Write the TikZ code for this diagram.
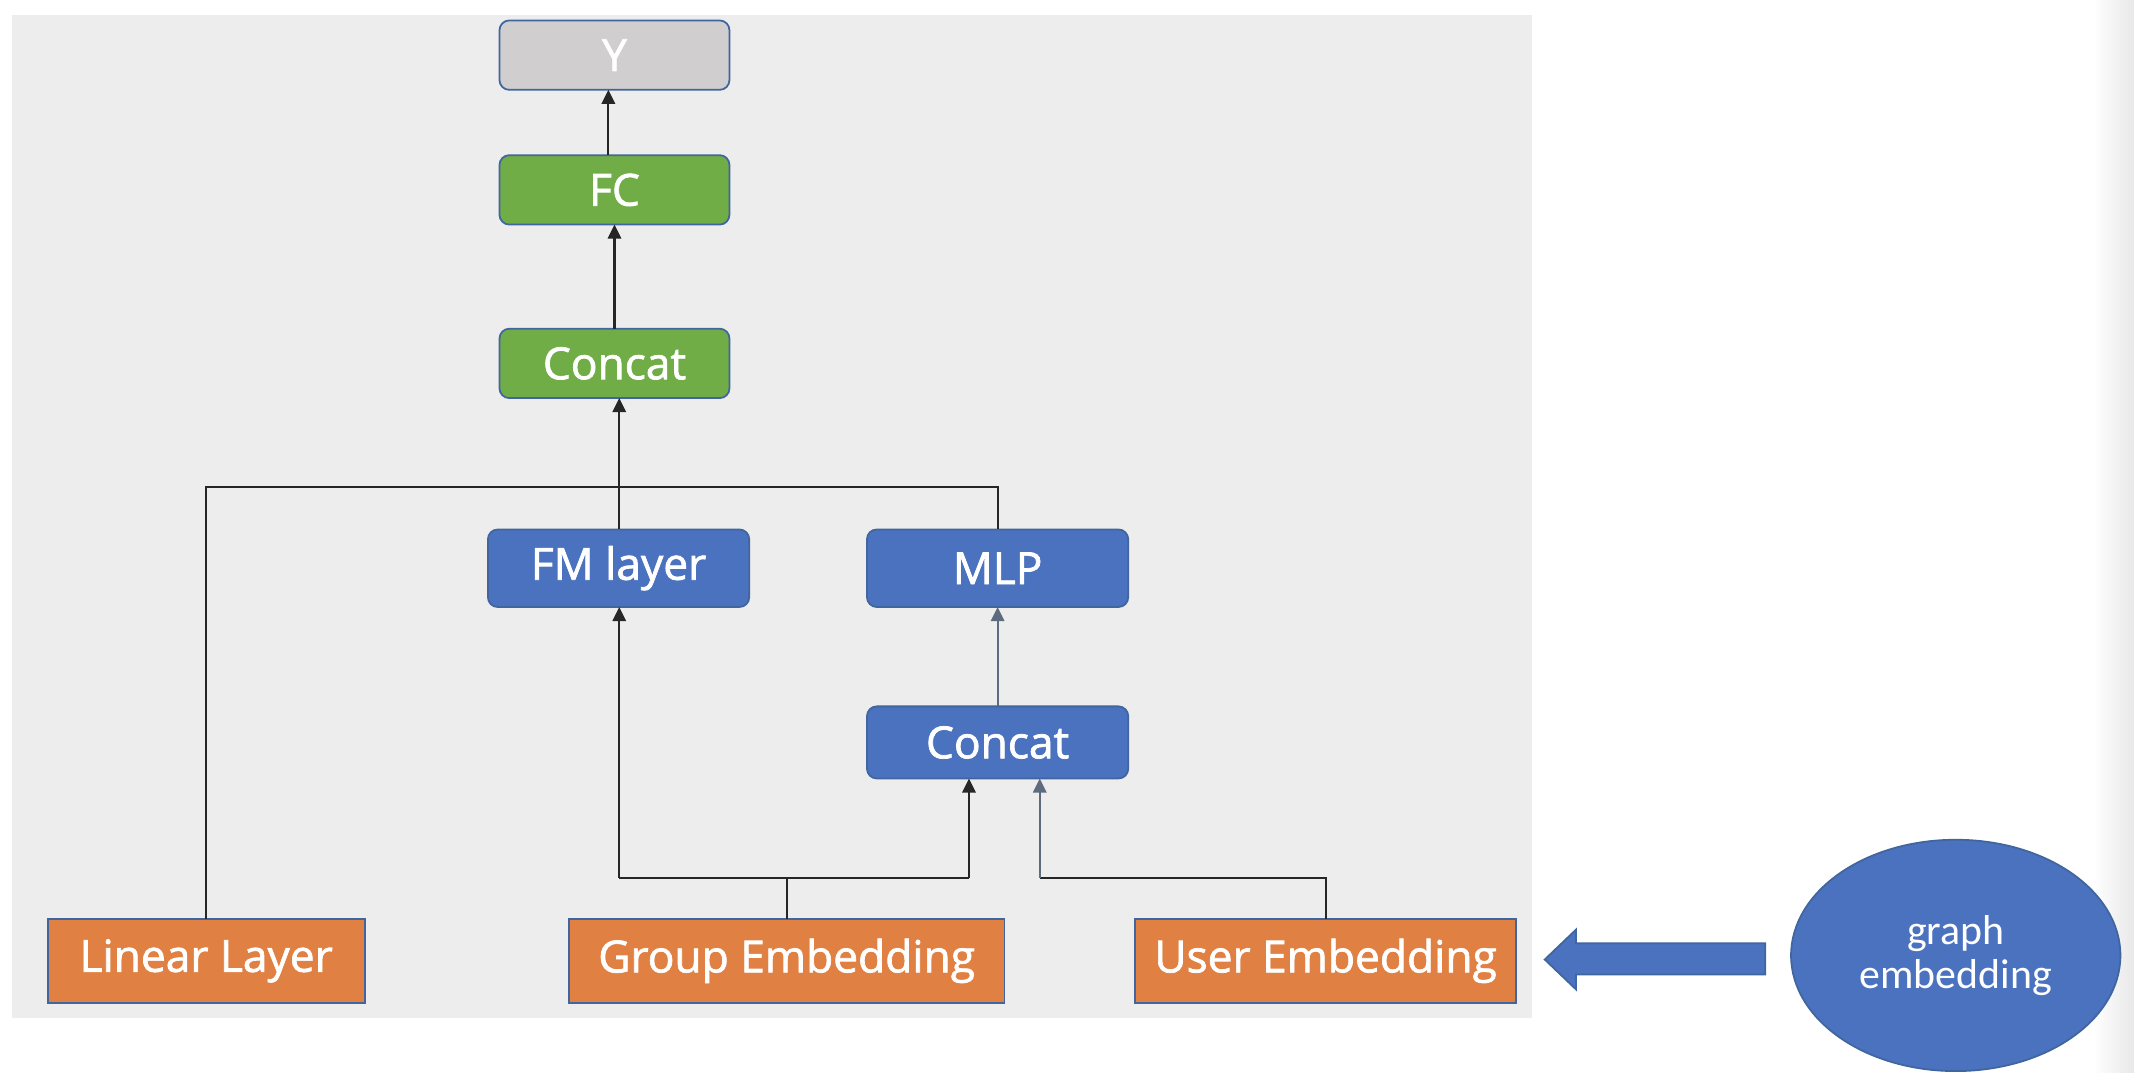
\documentclass[tikz,border=0pt]{standalone}
\usepackage{fontspec}
\setmainfont{Open Sans}
\newfontfamily\boxfont{Open Sans}[FakeBold=1.6]
\newfontfamily\carl{Carlito}
\usetikzlibrary{shapes.geometric,arrows.meta}
\newcommand{\uu}{0.01361cm}
\definecolor{panel}{HTML}{EDEDED}
\definecolor{bord}{HTML}{41659E}
\definecolor{ygray}{HTML}{D0CECE}
\definecolor{grn}{HTML}{70AD47}
\definecolor{blu}{HTML}{4A72BE}
\definecolor{org}{HTML}{E08042}
\definecolor{slate}{HTML}{5C6B7E}
\tikzset{
  box/.style={draw=bord, line width=0.5pt, rounded corners=2.8pt, text=white, outer sep=0pt, inner sep=0pt,
    font=\boxfont\fontsize{12.6}{14}\selectfont},
  ybox/.style={box, fill=ygray, minimum width=169*\uu, minimum height=51*\uu},
  gbox/.style={box, fill=grn, minimum width=169*\uu, minimum height=51*\uu},
  bbox/.style={box, fill=blu, minimum width=192*\uu},
  obox/.style={box, fill=org, rounded corners=0pt, minimum height=62*\uu},
  conn/.style={draw=black!85, line width=0.6pt},
  arr/.style={conn, -{Triangle[length=4pt,width=3.8pt]}},
  arrg/.style={draw=slate, line width=0.6pt, -{Triangle[length=4pt,width=3.8pt]}},
}
\begin{document}
\begin{tikzpicture}[x=\uu, y=-\uu]
\useasboundingbox (0,0) rectangle (1568,788);
\fill[white] (0,0) rectangle (1568,788);
\shade[left color=white, right color=black!9] (1538,0) rectangle (1568,788);
\fill[panel] (9,11) rectangle (1126,748);
% nodes
\node[ybox] (y) at (451.5,40.5) {Y};
\node[gbox] (fc) at (451.5,139.5) {FC};
\node[gbox] (cat1) at (451.5,267) {Concat};
\node[bbox, minimum height=57*\uu] (fm) at (454.5,417.5) {FM layer};
\node[bbox, minimum height=57*\uu] (mlp) at (733,417.5) {MLP};
\node[bbox, minimum height=53*\uu] (cat2) at (733,545.5) {Concat};
\node[obox, minimum width=233*\uu] (lin) at (151.5,706) {Linear Layer};
\node[obox, minimum width=320*\uu] (grp) at (578,706) {Group Embedding};
\node[obox, minimum width=280*\uu] (usr) at (974,706) {User Embedding};
\node[ellipse, draw=bord, line width=0.5pt, fill=blu, minimum width=242*\uu, minimum height=170*\uu,
  inner sep=0pt, text=white, align=center, font=\carl\fontsize{11.9}{12.6}\selectfont] (ge) at (1437,702) {graph\\embedding};
% junctions
\coordinate (j1) at (455,358);
\coordinate (j2) at (455,645);
\coordinate (j3) at (712,645);
\coordinate (j4) at (764,645);
% connectors
\draw[arr] (fc.north -| 447,0) -- (y.south -| 447,0);
\draw[arr] (cat1.north) -- (fc.south);
\draw[conn] (lin.north) |- (mlp.north |- j1) -- (mlp.north);
\draw[conn] (fm.north -| j1) -- (j1);
\draw[arr] (j1) -- (cat1.south -| j1);
\draw[arr] (j2) -- (fm.south -| j2);
\draw[conn] (j2) -- (j3);
\draw[conn] (grp.north) -- (grp.north |- j2);
\draw[arr] (j3) -- (cat2.south -| j3);
\draw[conn] (usr.north) |- (j4);
\draw[arrg] (j4) -- (cat2.south -| j4);
\draw[arrg] (cat2.north) -- (mlp.south);
% big arrow from graph embedding to user embedding
\draw[draw=bord, line width=0.5pt, fill=blu]
  (1297,693) -- (1158,693) -- (1158,683) -- (1135,705) -- (1158,727) -- (1158,716) -- (1297,716) -- cycle;
\end{tikzpicture}
\end{document}
